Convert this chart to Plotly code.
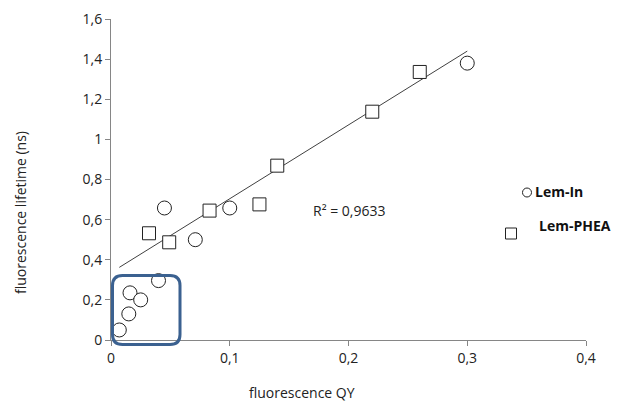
import plotly.graph_objects as go

# Lem-In (circles)
lemin_qy = [0.007, 0.015, 0.016, 0.025, 0.04, 0.045, 0.071, 0.1, 0.3]
lemin_lt = [0.05, 0.13, 0.235, 0.20, 0.296, 0.658, 0.50, 0.658, 1.38]

# Lem-PHEA (squares)
phea_qy = [0.032, 0.049, 0.083, 0.125, 0.14, 0.22, 0.26]
phea_lt = [0.532, 0.487, 0.645, 0.676, 0.869, 1.138, 1.336]

# Linear trendline end points
trend_qy = [0.007, 0.3]
trend_lt = [0.362, 1.44]

series_names = ["Lem-In", "Lem-PHEA"]
r2_text = "R² = 0,9633"
x_title = "fluorescence QY"
y_title = "fluorescence lifetime (ns)"

FONT = "Open Sans"
AX = "#868686"
W, H = 617, 404
L, R, T, B = 111, 31, 19, 64
PW, PH = W - L - R, H - T - B


def px(x):
    return (x - L) / PW


def py(y):
    return (H - B - y) / PH


fig = go.Figure()
fig.add_trace(go.Scatter(
    x=trend_qy, y=trend_lt, mode="lines",
    line=dict(color="#404040", width=1), showlegend=False, hoverinfo="skip"))
fig.add_trace(go.Scatter(
    x=lemin_qy, y=lemin_lt, mode="markers", name=series_names[0], showlegend=False,
    marker=dict(symbol="circle", size=14, color="white",
                line=dict(color="#222222", width=1))))
fig.add_trace(go.Scatter(
    x=phea_qy, y=phea_lt, mode="markers", name=series_names[1], showlegend=False,
    marker=dict(symbol="square", size=13, color="white",
                line=dict(color="#222222", width=1))))

# rounded highlight box around the low-QY cluster (paper coords so it is not clipped)
x0, x1, y0, y1 = px(112.5), px(180), py(344.5), py(275.5)
rx, ry = 10 / PW, 10 / PH
path = (f"M {x0+rx},{y0} L {x1-rx},{y0} Q {x1},{y0} {x1},{y0+ry} "
        f"L {x1},{y1-ry} Q {x1},{y1} {x1-rx},{y1} "
        f"L {x0+rx},{y1} Q {x0},{y1} {x0},{y1-ry} "
        f"L {x0},{y0+ry} Q {x0},{y0} {x0+rx},{y0} Z")
fig.add_shape(type="path", path=path, xref="paper", yref="paper",
              line=dict(color="#3b6190", width=3), layer="above")

# legend (hand-placed like the original)
fig.add_shape(type="circle", xref="paper", yref="paper",
              x0=px(522.5), x1=px(531.5), y0=py(197), y1=py(188),
              line=dict(color="#222222", width=1), fillcolor="white")
fig.add_shape(type="rect", xref="paper", yref="paper",
              x0=px(505.5), x1=px(516.5), y0=py(239), y1=py(228),
              line=dict(color="#222222", width=1), fillcolor="white")
fig.add_annotation(x=px(533), y=py(192), xref="paper", yref="paper",
                   text=f"<b>{series_names[0]}</b>", showarrow=False,
                   xanchor="left", yanchor="middle",
                   font=dict(family=FONT, size=14, color="#111111"))
fig.add_annotation(x=px(537), y=py(225), xref="paper", yref="paper",
                   text=f"<b>{series_names[1]}</b>", showarrow=False,
                   xanchor="left", yanchor="middle",
                   font=dict(family=FONT, size=14, color="#111111"))

fig.add_annotation(x=0.168, y=0.648, xref="x", yref="y", text=r2_text,
                   showarrow=False, xanchor="left", yanchor="middle",
                   font=dict(family=FONT, size=14, color="#222222"))

# axis titles
fig.add_annotation(x=px(302), y=py(393), xref="paper", yref="paper", text=x_title,
                   showarrow=False, xanchor="center", yanchor="middle",
                   font=dict(family=FONT, size=14, color="#222222"))
fig.add_annotation(x=px(20), y=py(213), xref="paper", yref="paper", text=y_title,
                   showarrow=False, xanchor="center", yanchor="middle", textangle=-90,
                   font=dict(family=FONT, size=14, color="#222222"))

fig.update_layout(
    width=W, height=H,
    margin=dict(l=L, r=R, t=T, b=B, autoexpand=False),
    paper_bgcolor="white", plot_bgcolor="white",
    separators=", ",
    showlegend=False,
    font=dict(family=FONT, size=14, color="#222222"),
    xaxis=dict(range=[0, 0.4], dtick=0.1, tick0=0, showgrid=False, zeroline=False,
               showline=True, linecolor=AX, linewidth=1,
               ticks="outside", ticklen=5, tickcolor=AX),
    yaxis=dict(range=[0, 1.6], dtick=0.2, tick0=0, showgrid=False, zeroline=False,
               showline=True, linecolor=AX, linewidth=1,
               ticks="outside", ticklen=5, tickcolor=AX),
)

fig.write_html("out.html")
